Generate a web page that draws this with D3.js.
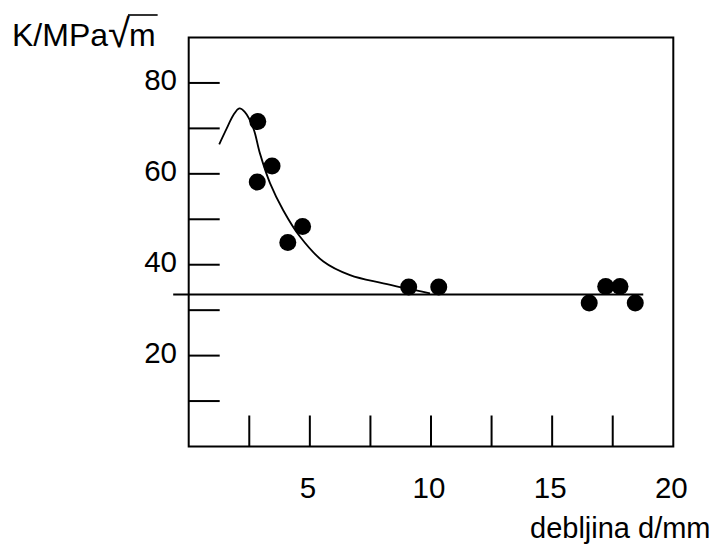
<!DOCTYPE html>
<html><head><meta charset="utf-8">
<script src="https://cdn.jsdelivr.net/npm/d3@7"></script>
<style>body{margin:0;background:#fff}svg{display:block}text{font-family:"Liberation Sans",Arial,Helvetica,sans-serif;fill:#000}</style>
</head><body>
<svg id="c" width="710" height="546"></svg>
<script>
// data
const pointsX = [2.85, 3.44, 2.83, 4.70, 4.09, 9.08, 10.32, 16.53, 17.21, 17.80, 18.43];
const pointsY = [71.5, 61.7, 58.2, 48.4, 44.9, 35.1, 35.1, 31.6, 35.2, 35.2, 31.6];
const curveX = [1.26, 1.57, 1.84, 2.09, 2.32, 2.67, 2.94, 3.36, 3.90, 4.59, 5.56, 6.66, 8.03, 9.96];
const curveY = [66.5, 70.0, 72.9, 74.4, 73.6, 70.0, 64.5, 57.9, 52.0, 46.2, 40.7, 37.7, 35.9, 33.7];
const refLineX = [-0.64, 18.76];
const refLineY = [33.45, 33.45];
const yTicks = [10, 20, 30, 40, 50, 60, 70, 80];
const yTickLabels = ["20", "40", "60", "80"];
const xTicks = [2.5, 5, 7.5, 10, 12.5, 15, 17.5];
const xTickLabels = ["5", "10", "15", "20"];

const svg = d3.select("#c");
const x = d3.scaleLinear().domain([0, 20]).range([188.7, 673.3]);
const y = d3.scaleLinear().domain([0, 90]).range([446.5, 37.5]);
const FS = 29.5;

// box
svg.append("rect").attr("x", x(0)).attr("y", y(90)).attr("width", x(20) - x(0)).attr("height", y(0) - y(90))
  .attr("fill", "none").attr("stroke", "#000").attr("stroke-width", 2);

// y ticks (inside)
svg.selectAll(".yt").data(yTicks).enter().append("line")
  .attr("x1", x(0)).attr("x2", x(0) + 31).attr("y1", d => y(d)).attr("y2", d => y(d))
  .attr("stroke", "#000").attr("stroke-width", 2);
svg.selectAll(".yl").data(yTickLabels).enter().append("text")
  .attr("x", 177).attr("y", d => y(+d) + 7.5).attr("text-anchor", "end").attr("font-size", FS).text(d => d);

// x ticks (inside)
svg.selectAll(".xt").data(xTicks).enter().append("line")
  .attr("x1", d => x(d)).attr("x2", d => x(d)).attr("y1", y(0)).attr("y2", y(0) - 31)
  .attr("stroke", "#000").attr("stroke-width", 2);
svg.selectAll(".xl").data(xTickLabels).enter().append("text")
  .attr("x", d => x(+d) - 2).attr("y", 498).attr("text-anchor", "middle").attr("font-size", FS).text(d => d);

// reference line
svg.append("line").attr("x1", x(refLineX[0])).attr("x2", x(refLineX[1]))
  .attr("y1", y(refLineY[0])).attr("y2", y(refLineY[1])).attr("stroke", "#000").attr("stroke-width", 2);

// fitted curve
const cdata = curveX.map((v, i) => [v, curveY[i]]);
svg.append("path").datum(cdata)
  .attr("d", d3.line().x(d => x(d[0])).y(d => y(d[1])).curve(d3.curveCatmullRom.alpha(0.5)))
  .attr("fill", "none").attr("stroke", "#000").attr("stroke-width", 1.8);

// points
svg.selectAll(".pt").data(pointsX.map((v, i) => [v, pointsY[i]])).enter().append("circle")
  .attr("cx", d => x(d[0])).attr("cy", d => y(d[1])).attr("r", 8.5).attr("fill", "#000");

// y-axis title: K/MPa √m
const t1 = svg.append("text").attr("x", 12).attr("y", 46).attr("font-size", 32).text("K/MPa");
const w1 = t1.node().getComputedTextLength();
const rad = svg.append("text").attr("x", 12 + w1).attr("y", 47).attr("font-size", 40).text("\u221A");
const rb = rad.node().getBBox();
const wr = rad.node().getComputedTextLength();
const t2 = svg.append("text").attr("x", 12 + w1 + wr - 1).attr("y", 46).attr("font-size", 32).text("m");
const w2 = t2.node().getComputedTextLength();
svg.append("line").attr("x1", 12 + w1 + wr - 2).attr("x2", 12 + w1 + wr + w2 + 1)
  .attr("y1", 15).attr("y2", 15).attr("stroke", "#000").attr("stroke-width", 1.6);

svg.append("text").attr("x", 530).attr("y", 538).attr("font-size", 29).text("debljina d/mm");
</script>
</body></html>
